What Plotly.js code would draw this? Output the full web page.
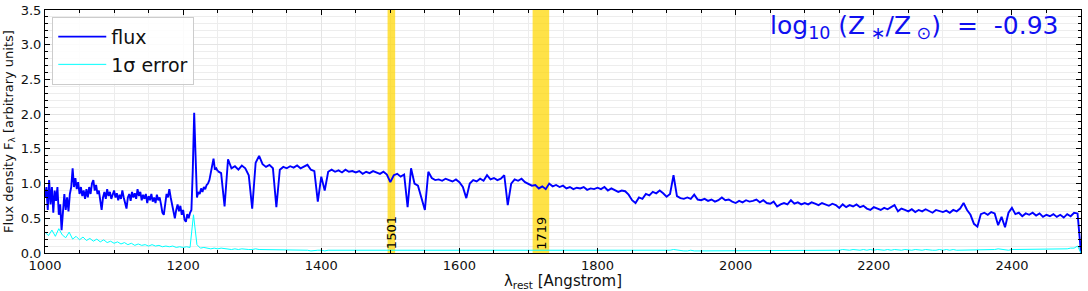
<!DOCTYPE html>
<html>
<head>
<meta charset="utf-8">
<script src="https://cdn.plot.ly/plotly-3.0.1.min.js"></script>
<style>html,body{margin:0;padding:0;background:#fff;}#chart{width:1088px;height:291px;}</style>
</head>
<body>
<div id="chart"></div>
<script>
// Flux, first segment: 1000-1250 Angstrom, 2 A step
const fluxBlueStart = 1000, fluxBlueStep = 2;
const fluxBlue = [
0.80,0.95,0.62,1.05,0.70,0.95,0.58,0.90,0.75,0.95,
0.55,0.70,0.33,0.60,0.85,0.62,0.80,0.60,0.85,0.95,
1.22,0.95,1.08,0.92,1.02,0.85,0.95,0.82,0.90,0.78,
0.92,0.80,0.95,0.85,1.00,1.05,0.90,0.98,0.85,0.90,
0.75,0.62,0.80,0.88,0.78,0.92,0.82,0.88,0.78,0.85,
0.90,0.80,0.86,0.76,0.84,0.78,0.90,0.80,0.72,0.64,
0.80,0.85,0.75,0.88,0.80,0.86,0.78,0.92,0.82,0.88,
0.76,0.84,0.78,0.85,0.72,0.82,0.76,0.85,0.74,0.80,
0.72,0.84,0.76,0.80,0.70,0.58,0.55,0.75,0.85,0.80,
0.92,0.80,0.70,0.58,0.50,0.62,0.70,0.60,0.68,0.55,
0.62,0.48,0.45,0.56,0.50,0.58,0.62,1.20,2.02,1.40,
0.80,0.88,0.85,0.93,0.88,0.95,0.92,0.98,1.00,1.05,
1.15,1.30,1.36,1.20,1.22,1.18
];
// Flux, second segment: 1250-2500 Angstrom, 5 A step
const fluxRedStart = 1250, fluxRedStep = 5;
const fluxRed = [
1.18,1.15,0.67,1.35,1.22,1.25,1.20,1.26,1.22,1.12,
0.64,1.30,1.40,1.28,1.24,1.27,1.22,0.66,1.20,1.24,
1.22,1.25,1.23,1.26,1.22,1.24,1.27,1.20,1.18,0.74,
1.10,0.90,1.17,1.20,1.17,1.19,1.16,1.20,1.17,1.18,
1.16,1.18,1.14,1.17,1.15,1.18,1.16,1.14,1.17,1.13,
1.02,1.12,1.14,1.10,1.13,0.66,1.22,1.00,0.97,0.78,
0.62,1.17,1.08,1.05,1.06,1.04,1.07,1.05,1.03,1.06,
1.02,0.95,0.79,1.00,1.05,1.03,1.07,1.04,1.12,1.06,
1.08,1.05,1.07,1.12,0.69,1.00,1.06,1.04,1.07,1.02,
1.00,0.97,0.98,0.93,0.96,0.92,1.00,0.96,0.98,0.95,
0.97,0.93,0.95,0.92,0.94,0.93,0.95,0.91,0.93,0.92,
0.94,0.92,0.95,0.90,0.93,0.91,0.88,0.90,0.89,0.84,
0.76,0.72,0.80,0.78,0.85,0.83,0.88,0.86,0.90,0.86,
0.81,0.85,1.12,0.82,0.79,0.78,0.80,0.78,0.84,0.77,
0.76,0.78,0.75,0.77,0.74,0.76,0.80,0.76,0.77,0.74,
0.72,0.75,0.73,0.76,0.74,0.75,0.77,0.73,0.76,0.72,
0.71,0.74,0.67,0.70,0.72,0.70,0.76,0.71,0.73,0.70,
0.72,0.70,0.73,0.71,0.69,0.72,0.70,0.68,0.71,0.69,
0.65,0.70,0.66,0.69,0.67,0.70,0.66,0.68,0.64,0.62,
0.66,0.64,0.62,0.65,0.63,0.66,0.69,0.60,0.64,0.62,
0.60,0.63,0.59,0.62,0.60,0.63,0.61,0.58,0.62,0.60,
0.59,0.61,0.58,0.62,0.60,0.64,0.72,0.62,0.55,0.42,
0.38,0.56,0.58,0.55,0.59,0.57,0.40,0.52,0.37,0.58,
0.65,0.56,0.58,0.53,0.57,0.55,0.58,0.54,0.57,0.52,
0.55,0.53,0.56,0.52,0.55,0.51,0.56,0.53,0.58,0.57,
0.00
];
// 1-sigma error: 1000-2500 Angstrom, 5 A step
const errStart = 1000, errStep = 5;
const errValues = [
0.30,0.25,0.33,0.24,0.35,0.26,0.22,0.30,0.20,0.24,
0.19,0.23,0.18,0.21,0.17,0.20,0.16,0.19,0.15,0.17,
0.14,0.16,0.13,0.15,0.12,0.14,0.11,0.13,0.11,0.12,
0.10,0.12,0.10,0.11,0.09,0.10,0.09,0.10,0.08,0.09,
0.08,0.09,0.08,0.55,0.12,0.07,0.08,0.07,0.06,0.07,
0.06,0.07,0.06,0.06,0.05,0.06,0.05,0.06,0.05,0.05,
0.05,0.06,0.05,0.05,0.04,0.05,0.05,0.04,0.05,0.04,
0.04,0.05,0.04,0.04,0.05,0.04,0.04,0.03,0.04,0.04,
0.04,0.03,0.04,0.04,0.03,0.04,0.04,0.03,0.04,0.03,
0.04,0.03,0.03,0.04,0.03,0.04,0.03,0.03,0.04,0.03,
0.03,0.04,0.03,0.03,0.04,0.03,0.03,0.04,0.03,0.03,
0.04,0.03,0.03,0.03,0.04,0.03,0.03,0.04,0.03,0.03,
0.03,0.04,0.03,0.03,0.03,0.04,0.03,0.03,0.04,0.03,
0.03,0.03,0.04,0.03,0.03,0.03,0.04,0.03,0.03,0.03,
0.04,0.03,0.03,0.03,0.04,0.03,0.03,0.03,0.04,0.03,
0.03,0.03,0.04,0.03,0.03,0.03,0.03,0.04,0.03,0.03,
0.03,0.04,0.03,0.03,0.03,0.04,0.03,0.03,0.03,0.04,
0.03,0.03,0.03,0.04,0.03,0.03,0.03,0.03,0.04,0.03,
0.03,0.04,0.05,0.04,0.03,0.03,0.03,0.04,0.03,0.03,
0.03,0.03,0.04,0.03,0.03,0.03,0.04,0.03,0.03,0.03,
0.03,0.04,0.03,0.03,0.03,0.04,0.03,0.03,0.04,0.03,
0.03,0.03,0.04,0.03,0.03,0.04,0.03,0.03,0.03,0.04,
0.03,0.04,0.03,0.04,0.03,0.04,0.04,0.03,0.04,0.04,
0.04,0.05,0.04,0.04,0.05,0.04,0.04,0.05,0.04,0.05,
0.04,0.05,0.04,0.04,0.05,0.04,0.05,0.04,0.04,0.05,
0.04,0.04,0.05,0.04,0.04,0.05,0.04,0.04,0.04,0.05,
0.04,0.05,0.04,0.05,0.04,0.04,0.05,0.04,0.05,0.04,
0.05,0.04,0.05,0.05,0.04,0.05,0.06,0.05,0.05,0.04,
0.05,0.05,0.06,0.05,0.05,0.06,0.05,0.05,0.06,0.05,
0.05,0.06,0.06,0.05,0.06,0.06,0.06,0.07,0.07,0.10,
0.00
];
// Highlighted windows
const bandLabels = ["1501", "1719"];
const bandCenters = [1501, 1719];
const bandLo = [1496, 1706];
const bandHi = [1507, 1730];
const yRange = [0, 3.5];
const xRange = [1000, 2500];
const xTickVals = [1000, 1200, 1400, 1600, 1800, 2000, 2200, 2400];
const yTickVals = [0.0, 0.5, 1.0, 1.5, 2.0, 2.5, 3.0, 3.5];
const metallicityText = "log<sub>10</sub> (Z<sub> ∗</sub>/Z<sub> ⊙</sub>)  =  -0.93";

const FONT = "DejaVu Sans, Verdana, sans-serif";

// bands drawn as filled traces so they sit above the grid but below the spectrum
const bandTraces = bandLo.map((lo, i) => ({
  type:'scatter', mode:'lines', showlegend:false, hoverinfo:'skip',
  x:[lo, bandHi[i], bandHi[i], lo, lo],
  y:[yRange[0], yRange[0], yRange[1], yRange[1], yRange[0]],
  fill:'toself', fillcolor:'rgba(255,215,0,0.72)', line:{width:0, color:'rgba(0,0,0,0)'}
}));

const traces = bandTraces.concat([
  {type:'scatter', mode:'lines', name:'flux', legendgroup:'flux',
   x0: fluxBlueStart, dx: fluxBlueStep, y: fluxBlue,
   line:{color:'#0000ff', width:1.9}},
  {type:'scatter', mode:'lines', name:'flux', legendgroup:'flux', showlegend:false,
   x0: fluxRedStart, dx: fluxRedStep, y: fluxRed,
   line:{color:'#0000ff', width:1.9}},
  {type:'scatter', mode:'lines', name:'1σ error',
   x0: errStart, dx: errStep, y: errValues,
   line:{color:'#00ffff', width:1}}
]);

const annotations = bandLabels.map((t, i) => ({
  x: bandCenters[i], y: 0.02, xref:'x', yref:'y', text: t, showarrow:false,
  textangle:-90, xanchor:'center', yanchor:'bottom',
  font:{family:FONT, size:13, color:'#000'}
}));
annotations.push({
  x: 0.98, y: 0.93, xref:'paper', yref:'paper', text: metallicityText,
  showarrow:false, xanchor:'right', yanchor:'middle',
  font:{family:FONT, size:25, color:'#1010f0'}
});

const axisCommon = {
  showline:true, linecolor:'#000', linewidth:1, mirror:'allticks',
  ticks:'inside', ticklen:5, tickwidth:1, tickcolor:'#000',
  showgrid:true, gridcolor:'#e4e4e4', gridwidth:1, zeroline:false,
  tickfont:{family:FONT, size:13, color:'#111'}
};

const layout = {
  width:1088, height:291,
  margin:{l:45, r:7, t:10, b:38},
  paper_bgcolor:'#fff', plot_bgcolor:'#fff',
  font:{family:FONT, color:'#111'},
  showlegend:true,
  legend:{x:0.007, y:0.972, xanchor:'left', yanchor:'top', traceorder:'normal',
    bgcolor:'rgba(255,255,255,0.85)', bordercolor:'#cccccc', borderwidth:1,
    font:{family:FONT, size:19, color:'#111'}, tracegroupgap:0, itemwidth:48},
  xaxis: Object.assign({}, axisCommon, {
    range:xRange, tickmode:'array', tickvals:xTickVals,
    ticktext: xTickVals.map(String),
    minor:{dtick:50, tick0:1000, ticks:'inside', ticklen:3, showgrid:true, gridcolor:'#ededed'},
    title:{text:'λ<sub>rest</sub> [Angstrom]', font:{family:FONT, size:15, color:'#111'}, standoff:4}
  }),
  yaxis: Object.assign({}, axisCommon, {
    range:yRange, tickmode:'array', tickvals:yTickVals,
    ticktext: yTickVals.map(v => v.toFixed(1)),
    minor:{dtick:0.1, tick0:0, ticks:'inside', ticklen:3, showgrid:true, gridcolor:'#ededed'},
    title:{text:'Flux density F<sub>λ</sub> [arbitrary units]', font:{family:FONT, size:13, color:'#111'}, standoff:4}
  }),
  annotations: annotations,
  hovermode:false
};

Plotly.newPlot('chart', traces, layout, {displayModeBar:false, staticPlot:true});
</script>
</body>
</html>
